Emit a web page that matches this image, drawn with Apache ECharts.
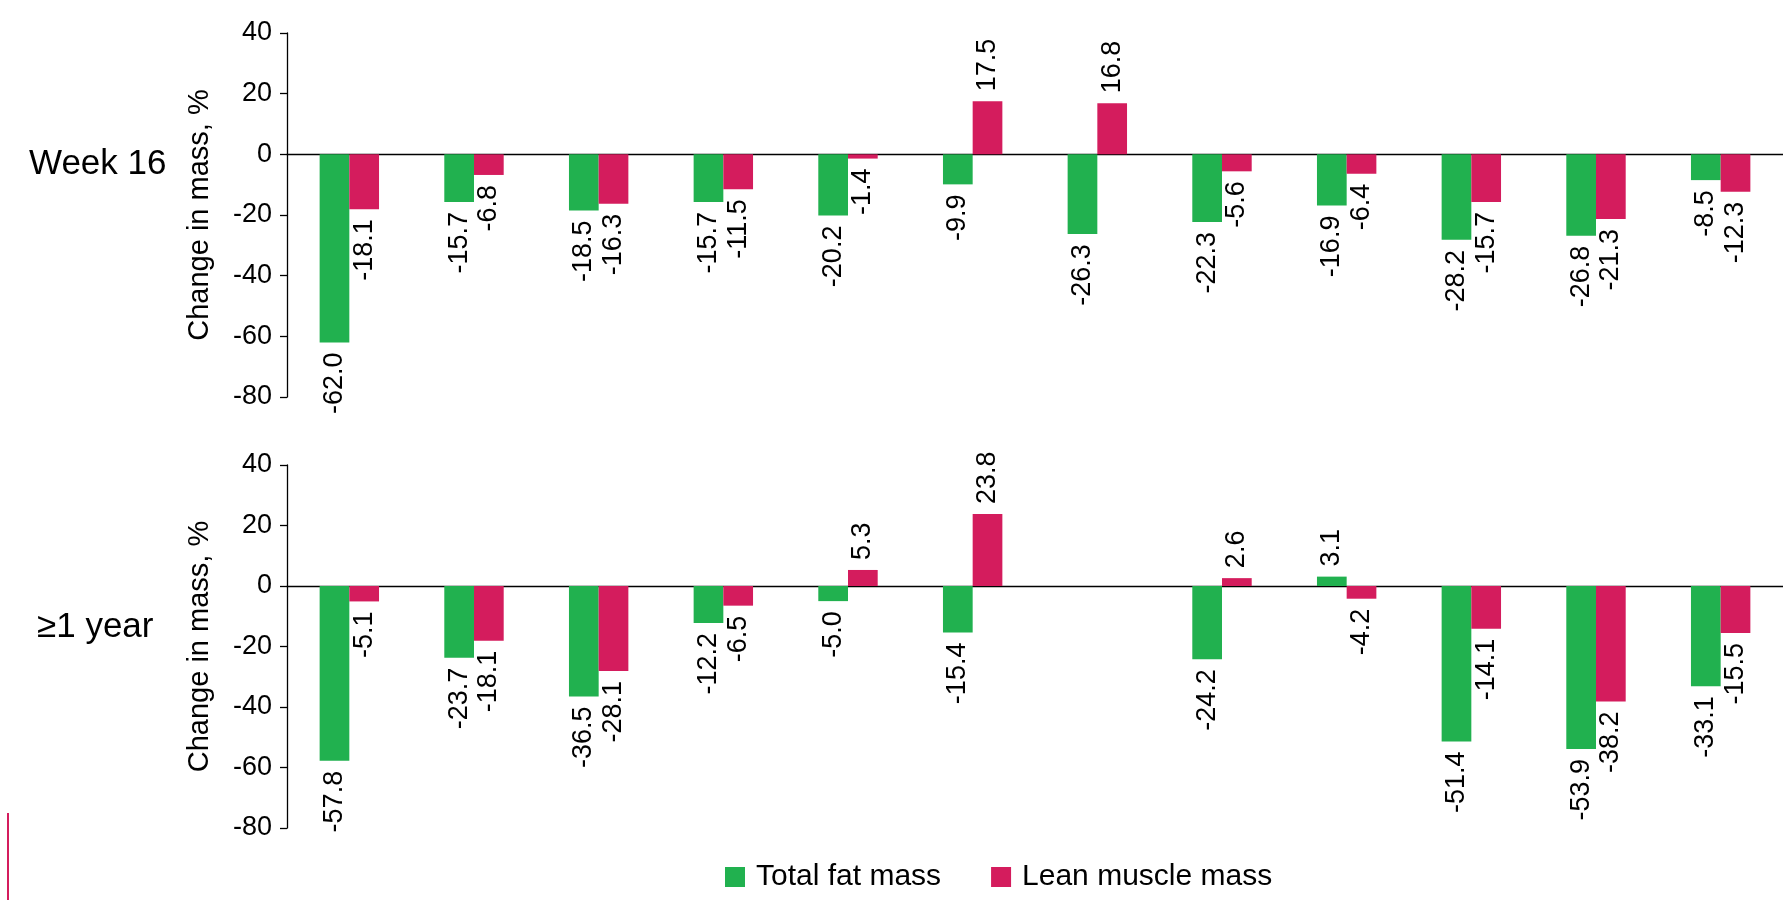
<!DOCTYPE html>
<html>
<head>
<meta charset="utf-8">
<title>Change in mass</title>
<script src="https://cdn.jsdelivr.net/npm/echarts@6/dist/echarts.min.js"></script>
<style>
  html, body { margin: 0; padding: 0; background: #fff; }
  #chart { width: 1783px; height: 900px; }
</style>
</head>
<body>
<div id="chart"></div>
<script>
// Cases along the x axis (not labelled on the chart)
const caseIds = ['1', '2', '3', '4', '5', '6', '7', '8', '9', '10', '11', '12'];

// Week 16 change in mass, %
const week16Fat = [-62.0, -15.7, -18.5, -15.7, -20.2, -9.9, -26.3, -22.3, -16.9, -28.2, -26.8, -8.5];
const week16Lean = [-18.1, -6.8, -16.3, -11.5, -1.4, 17.5, 16.8, -5.6, -6.4, -15.7, -21.3, -12.3];

// ≥1 year change in mass, % (case 7 has no value)
const year1Fat = [-57.8, -23.7, -36.5, -12.2, -5.0, -15.4, null, -24.2, 3.1, -51.4, -53.9, -33.1];
const year1Lean = [-5.1, -18.1, -28.1, -6.5, 5.3, 23.8, null, 2.6, -4.2, -14.1, -38.2, -15.5];

// Value axis ticks
const yMin = -80;
const yMax = 40;
const yStep = 20;

const seriesNames = ['Total fat mass', 'Lean muscle mass'];
const rowTitles = ['Week 16', '\u22651 year'];

const FONT = "'Liberation Sans', Arial, Helvetica, sans-serif";
const GREEN = '#21B14F';
const PINK = '#D41C5D';

// Labels sit outside the bar end, reading bottom to top
function barData(values) {
  return values.map(v => {
    if (v === null) return '-';
    const neg = v < 0;
    return {
      value: v,
      label: {
        position: neg ? 'bottom' : 'top',
        align: neg ? 'right' : 'left'
      }
    };
  });
}

function barSeries(name, values, gridIndex, color) {
  return {
    name: name,
    type: 'bar',
    xAxisIndex: gridIndex,
    yAxisIndex: gridIndex,
    barWidth: 29.7,
    barGap: '0%',
    itemStyle: { color: color },
    label: {
      show: true,
      rotate: 90,
      verticalAlign: 'middle',
      distance: 10,
      color: '#000',
      fontFamily: FONT,
      fontSize: 27,
      formatter: p => Number(p.value).toFixed(1)
    },
    data: barData(values)
  };
}

function xAxis(gridIndex) {
  return {
    type: 'category',
    gridIndex: gridIndex,
    data: caseIds,
    axisLine: { onZero: true, lineStyle: { color: '#000', width: 1.3 } },
    axisTick: { show: false },
    axisLabel: { show: false },
    splitLine: { show: false }
  };
}

function yAxis(gridIndex) {
  return {
    type: 'value',
    gridIndex: gridIndex,
    min: yMin,
    max: yMax,
    interval: yStep,
    name: 'Change in mass, %',
    nameLocation: 'middle',
    nameGap: 73,
    nameTextStyle: { color: '#000', fontFamily: FONT, fontSize: 29 },
    axisLine: { show: true, lineStyle: { color: '#000', width: 1.3 } },
    axisTick: { show: true, inside: false, length: 7, lineStyle: { color: '#000', width: 1.3 } },
    axisLabel: { color: '#000', fontFamily: FONT, fontSize: 27, margin: 15 },
    splitLine: { show: false }
  };
}

const chart = echarts.init(document.getElementById('chart'), null, { renderer: 'canvas' });

chart.setOption({
  animation: false,
  backgroundColor: '#fff',
  textStyle: { fontFamily: FONT },
  grid: [
    { left: 287, top: 33, width: 1499, height: 364 },
    { left: 287, top: 465, width: 1499, height: 363 }
  ],
  xAxis: [xAxis(0), xAxis(1)],
  yAxis: [yAxis(0), yAxis(1)],
  legend: {
    data: seriesNames,
    left: 725,
    top: 862,
    padding: 0,
    icon: 'rect',
    itemWidth: 20,
    itemHeight: 20,
    itemGap: 50,
    textStyle: {
      color: '#000',
      fontFamily: FONT,
      fontSize: 30,
      lineHeight: 30,
      padding: [0, 0, 0, 6]
    }
  },
  graphic: [
    {
      type: 'text',
      x: 29,
      y: 164,
      style: { text: rowTitles[0], fill: '#000', font: '35px ' + FONT, align: 'left', verticalAlign: 'middle' }
    },
    {
      type: 'text',
      x: 37,
      y: 627,
      style: { text: rowTitles[1], fill: '#000', font: '35px ' + FONT, align: 'left', verticalAlign: 'middle' }
    },
    {
      type: 'rect',
      x: 7,
      y: 813,
      shape: { width: 2, height: 87 },
      style: { fill: PINK }
    }
  ],
  series: [
    barSeries(seriesNames[0], week16Fat, 0, GREEN),
    barSeries(seriesNames[1], week16Lean, 0, PINK),
    barSeries(seriesNames[0], year1Fat, 1, GREEN),
    barSeries(seriesNames[1], year1Lean, 1, PINK)
  ]
});
</script>
</body>
</html>
